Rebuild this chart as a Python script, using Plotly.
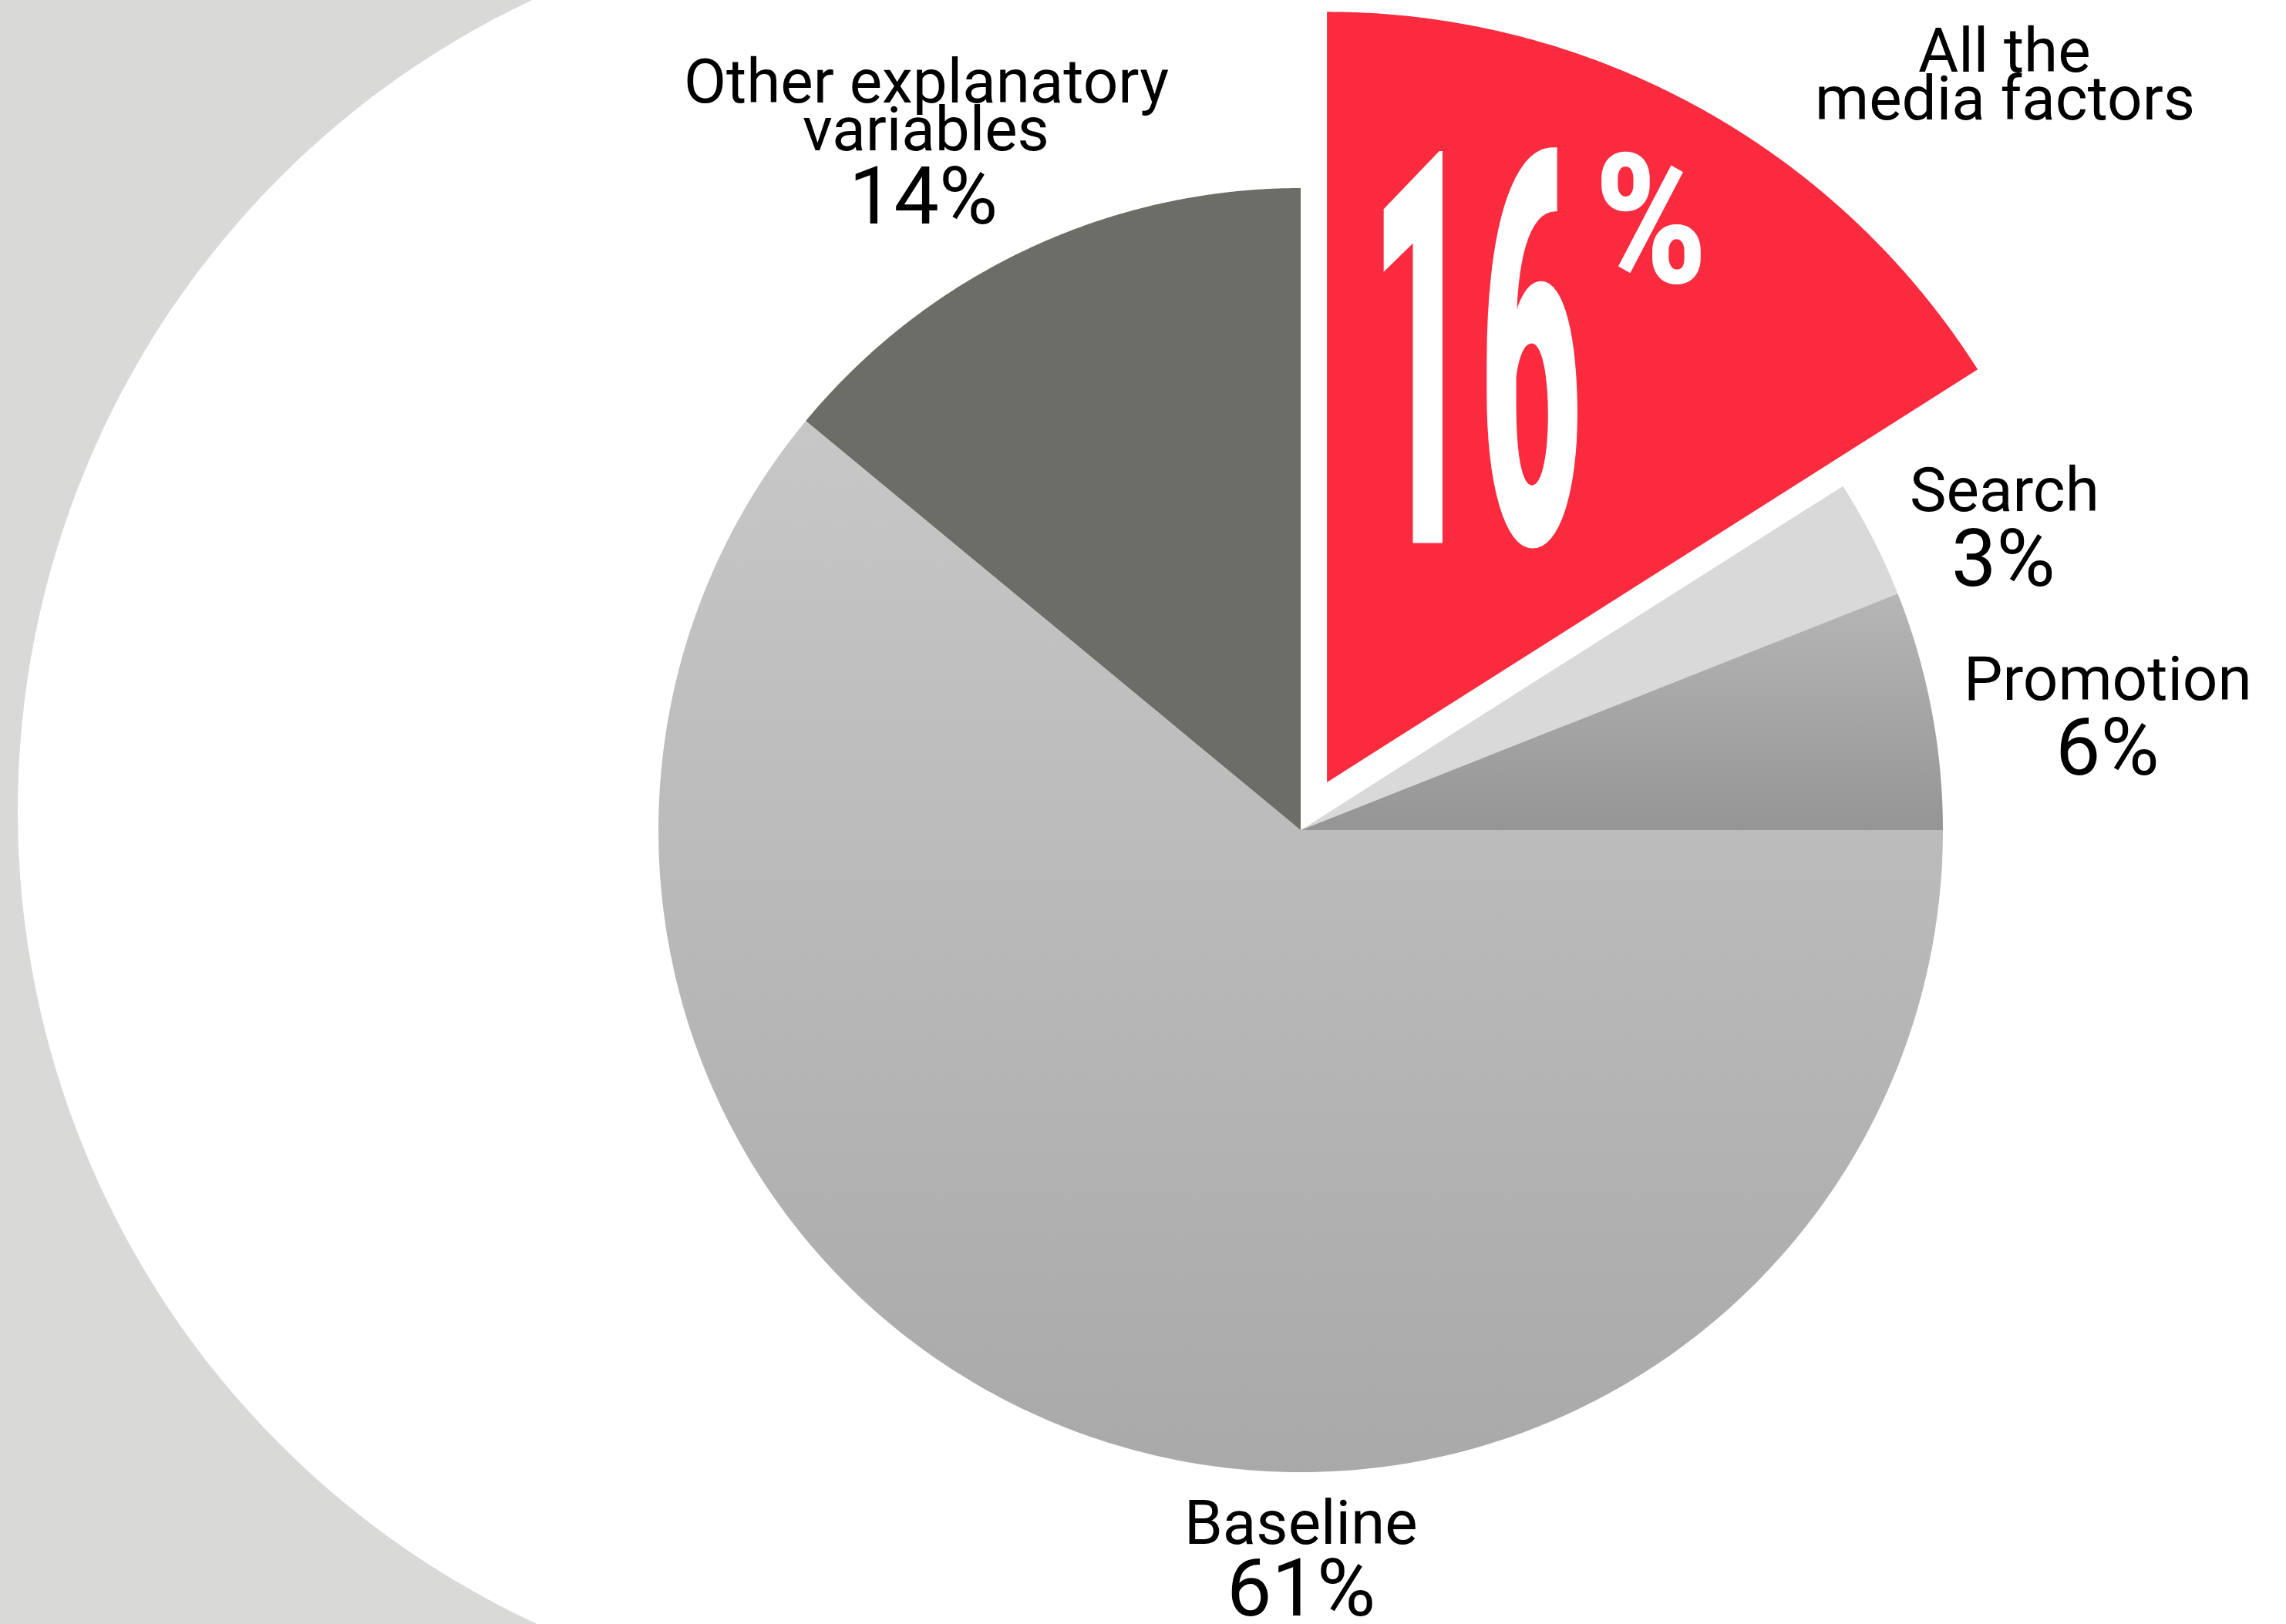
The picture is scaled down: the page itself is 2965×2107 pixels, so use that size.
import numpy as np
import plotly.graph_objects as go

# ---- data -------------------------------------------------------------
categories = ["All the media factors", "Search", "Promotion", "Baseline",
              "Other explanatory variables"]
shares = [16, 3, 6, 61, 14]          # percent of sales, clockwise from 12 o'clock
label_lines = [["All the", "media factors"], ["Search"], ["Promotion"],
               ["Baseline"], ["Other explanatory", "variables"]]

# ---- styling ----------------------------------------------------------
W, H = 2965, 2107
PX_PER_UNIT = 833.0          # pie radius in pixels
CENTER_PX = (1687, 1077)     # pie centre in pixels
HIGHLIGHT = 0                # index of the emphasised slice
HIGHLIGHT_RADIUS = 1.2
HIGHLIGHT_PULL = 0.085

solid = {0: "#fa2b3e", 1: "#d9d9d9", 4: "#6c6d66"}
gradients = {2: [[0, "#959595"], [1, "#b6b6b6"]],
             3: [[0, "#a9a9a9"], [1, "#c7c7c7"]]}

LABEL_FONT = "Roboto, Inter, 'Liberation Sans', sans-serif"
BIG_FONT = "'Roboto Condensed', 'Liberation Sans Narrow', 'DejaVu Sans Condensed', Roboto, sans-serif"


def px_to_data(px, py):
    return ((px - CENTER_PX[0]) / PX_PER_UNIT, (CENTER_PX[1] - py) / PX_PER_UNIT)


x_range = [px_to_data(0, 0)[0], px_to_data(W, 0)[0]]
y_range = [px_to_data(0, H)[1], px_to_data(0, 0)[1]]

fig = go.Figure()

# ---- wedges -----------------------------------------------------------
total = float(sum(shares))
start = 0.0
for i, v in enumerate(shares):
    sweep = 360.0 * v / total
    a0, a1 = np.radians(start), np.radians(start + sweep)
    mid = (a0 + a1) / 2
    r = HIGHLIGHT_RADIUS if i == HIGHLIGHT else 1.0
    pull = HIGHLIGHT_PULL if i == HIGHLIGHT else 0.0
    ox, oy = pull * np.sin(mid), pull * np.cos(mid)
    t = np.linspace(a0, a1, 240)
    xs = np.concatenate([[ox], ox + r * np.sin(t), [ox]])
    ys = np.concatenate([[oy], oy + r * np.cos(t), [oy]])
    kw = dict(x=xs, y=ys, mode="none", fill="toself", name=categories[i],
              hoverinfo="skip", showlegend=False)
    if i in gradients:
        kw["fillgradient"] = dict(type="vertical", colorscale=gradients[i])
    else:
        kw["fillcolor"] = solid[i]
    fig.add_trace(go.Scatter(**kw))
    start += sweep

# ---- background: grey band with a large white circle cut into it -------
gx0, gy0 = px_to_data(0, 0)
gx1, gy1 = px_to_data(1186, H)
ccx, ccy = px_to_data(1186, 1052)
cr = 1163 / PX_PER_UNIT
shapes = [
    dict(type="rect", xref="x", yref="y", x0=gx0 - 0.1, x1=gx1, y0=gy1 - 0.1, y1=gy0 + 0.1,
         fillcolor="#d9d9d7", line=dict(width=0), layer="below"),
    dict(type="circle", xref="x", yref="y", x0=ccx - cr, x1=ccx + cr, y0=ccy - cr, y1=ccy + cr,
         fillcolor="white", line=dict(width=0), layer="below"),
]

# ---- labels -----------------------------------------------------------
annotations = []


def add_text(text, px, py, size, family=LABEL_FONT, color="black", weight=400):
    x, y = px_to_data(px, py)
    annotations.append(dict(text=text, x=x, y=y, xref="x", yref="y", showarrow=False,
                            xanchor="center", yanchor="middle",
                            font=dict(family=family, size=size, color=color, weight=weight)))
    return len(annotations) - 1


# label anchor positions (pixels): name lines then the share
label_pos = {
    0: ((2600, 66), (2600, 128), None),
    1: ((2600, 636), None, (2598, 724)),
    2: ((2734, 881), None, (2733, 969)),
    3: ((1687, 1976), None, (1687, 2060)),
    4: ((1201, 106), (1201, 168), (1197, 254)),
}
LINE_SIZE, PCT_SIZE = 80, 104
for i, lines in enumerate(label_lines):
    p1, p2, pp = label_pos[i]
    add_text(lines[0], *p1, LINE_SIZE)
    if len(lines) > 1:
        add_text(lines[1], *p2, LINE_SIZE)
    if pp is not None:
        add_text(f"{shares[i]}%", *pp, PCT_SIZE)

# big white share inside the highlighted slice
big_idx = add_text(f"{shares[HIGHLIGHT]}", 1914, 460, 280, family=BIG_FONT,
                   color="white", weight=700)
add_text("%", 2141, 286, 235, family=BIG_FONT, color="white", weight=700)

fig.update_layout(
    width=W, height=H,
    margin=dict(l=0, r=0, t=0, b=0),
    paper_bgcolor="white", plot_bgcolor="white",
    xaxis=dict(range=x_range, visible=False, fixedrange=True),
    yaxis=dict(range=y_range, visible=False, fixedrange=True),
    shapes=shapes, annotations=annotations,
    showlegend=False,
)

# stretch the big condensed figure vertically, poster style
stretch_js = """
var g = document.querySelector('g.annotation[data-index="%d"] text');
if (g) {
  g.style.transformBox = 'fill-box';
  g.style.transformOrigin = 'center';
  g.style.transform = 'scale(1, 2.55)';
}
""" % big_idx

fig.write_html("out.html", config=dict(displayModeBar=False), post_script=stretch_js)
